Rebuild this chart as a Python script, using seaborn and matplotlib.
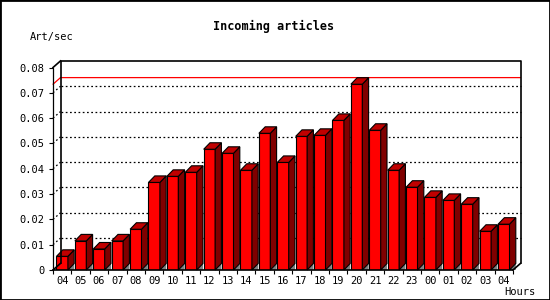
import matplotlib
matplotlib.use("Agg")
import matplotlib.pyplot as plt
import seaborn as sns
import pandas as pd
from matplotlib.patches import Polygon, Rectangle

hours = ['04', '05', '06', '07', '08', '09', '10', '11', '12', '13', '14', '15', '16',
         '17', '18', '19', '20', '21', '22', '23', '00', '01', '02', '03', '04']
rates = [0.0054, 0.0115, 0.0083, 0.0115, 0.0161, 0.0346, 0.0370, 0.0386, 0.0477,
         0.0461, 0.0394, 0.0540, 0.0425, 0.0528, 0.0532, 0.0591, 0.0734, 0.0552,
         0.0394, 0.0327, 0.0287, 0.0275, 0.0260, 0.0153, 0.0181]
yticks = [0, 0.01, 0.02, 0.03, 0.04, 0.05, 0.06, 0.07, 0.08]
ytick_labels = ['0', '0.01', '0.02', '0.03', '0.04', '0.05', '0.06', '0.07', '0.08']
title = 'Incoming articles'
ylabel = 'Art/sec'
xlabel = 'Hours'

sns.set_style("white")
plt.rcParams['font.family'] = ['DejaVu Sans Mono', 'DejaVu Sans']
plt.rcParams['text.color'] = 'black'
plt.rcParams['xtick.color'] = 'black'
plt.rcParams['ytick.color'] = 'black'
plt.rcParams['xtick.labelcolor'] = 'black'
plt.rcParams['ytick.labelcolor'] = 'black'

W, H = 550, 300
fig = plt.figure(figsize=(W / 100, H / 100), dpi=100)
fig.patch.set_facecolor('white')
ax_left, ax_bottom, ax_w, ax_h = 53, 30, 460, 202.5
ax = fig.add_axes([ax_left / W, ax_bottom / H, ax_w / W, ax_h / H])

df = pd.DataFrame({'slot': list(range(len(rates))), 'rate': rates})
sns.barplot(data=df, x='slot', y='rate', color='#ff0000', saturation=1,
            width=0.62, edgecolor='black', linewidth=0.8, ax=ax, zorder=3)

n = len(rates)
ax.set_xlim(-0.5, n - 0.5)
ax.set_ylim(0, 0.08)
for s in ax.spines.values():
    s.set_visible(False)
ax.set_xlabel('')
ax.set_ylabel('')

# pixel -> data conversion
px_x = n / ax_w
px_y = 0.08 / ax_h
bdx, bdy = 7.5 * px_x, 6.6 * px_y   # box depth
dx, dy = 6.3 * px_x, 6.5 * px_y     # bar depth

# 3D faces for bars
for p in ax.patches[:n]:
    x0 = p.get_x()
    x1 = x0 + p.get_width()
    h = p.get_height()
    top = Polygon([(x0, h), (x0 + dx, h + dy), (x1 + dx, h + dy), (x1, h)],
                  closed=True, facecolor='#c00000', edgecolor='black', lw=0.8,
                  zorder=3, clip_on=False)
    side = Polygon([(x1, 0), (x1 + dx, dy), (x1 + dx, h + dy), (x1, h)],
                   closed=True, facecolor='#800000', edgecolor='black', lw=0.8,
                   zorder=3, clip_on=False)
    shadow = Polygon([(x1, 0), (x1 + dx, dy), (x1 + dx, 0)], closed=True,
                     facecolor='#808080', edgecolor='none', zorder=2.5, clip_on=False)
    ax.add_patch(shadow)
    ax.add_patch(side)
    ax.add_patch(top)

xl, xr = -0.5, n - 0.5
# grid lines on back wall
dots = (0, (1.4, 2.0))
for v in yticks[1:-1]:
    ax.plot([xl, xl + bdx], [v, v + bdy], color='black', lw=0.9,
            linestyle=dots, zorder=1, clip_on=False)
    ax.plot([xl + bdx, xr + bdx], [v + bdy, v + bdy], color='black', lw=0.9,
            linestyle=dots, zorder=1, clip_on=False)

# max line
m = max(rates)
ax.plot([xl, xl + bdx, xr + bdx], [m, m + bdy, m + bdy], color='#ff0000', lw=0.9,
        zorder=1.5, clip_on=False)

# box
kw = dict(color='black', lw=1.2, zorder=4, clip_on=False, solid_capstyle='projecting')
ax.plot([xl + bdx, xl + bdx, xr + bdx, xr + bdx], [bdy, 0.08 + bdy, 0.08 + bdy, bdy], **kw)
ax.plot([xl, xl + bdx], [0.08, 0.08 + bdy], **kw)
ax.plot([xr, xr + bdx], [0, bdy], **kw)
ax.plot([xl, xl + bdx], [0, bdy], **kw)
ax.plot([xl, xl], [0, 0.08], color='black', lw=0.9, zorder=4, clip_on=False)
ax.plot([xl, xr], [0, 0], color='black', lw=1.2, zorder=4, clip_on=False)

# ticks
ax.set_yticks(yticks)
ax.set_yticklabels(ytick_labels)
ax.tick_params(axis='y', left=True, length=3, width=0.8, pad=3.3, labelsize=7.5,
               colors='black')
ax.set_xticks(range(n))
ax.set_xticklabels(hours)
ax.set_xticks([i - 0.5 for i in range(n + 1)], minor=True)
ax.tick_params(axis='x', which='major', bottom=True, length=0, pad=4, labelsize=7.5,
               colors='black')
ax.tick_params(axis='x', which='minor', bottom=True, length=3, width=0.8, colors='black')

# texts
fig.text(274 / W, 1 - 26.7 / H, title, ha='center', va='center', fontsize=8.5,
         fontweight='bold', color='black')
fig.text(30 / W, 1 - 36.7 / H, ylabel, ha='left', va='center', fontsize=7.5,
         color='black')
fig.text(504 / W, 1 - 291.7 / H, xlabel, ha='left', va='center', fontsize=7.5,
         color='black')

fig.patches.append(Rectangle((0, 0), 1, 1, transform=fig.transFigure, fill=False,
                             lw=2, edgecolor='black'))

fig.savefig('out.png', dpi=100)
